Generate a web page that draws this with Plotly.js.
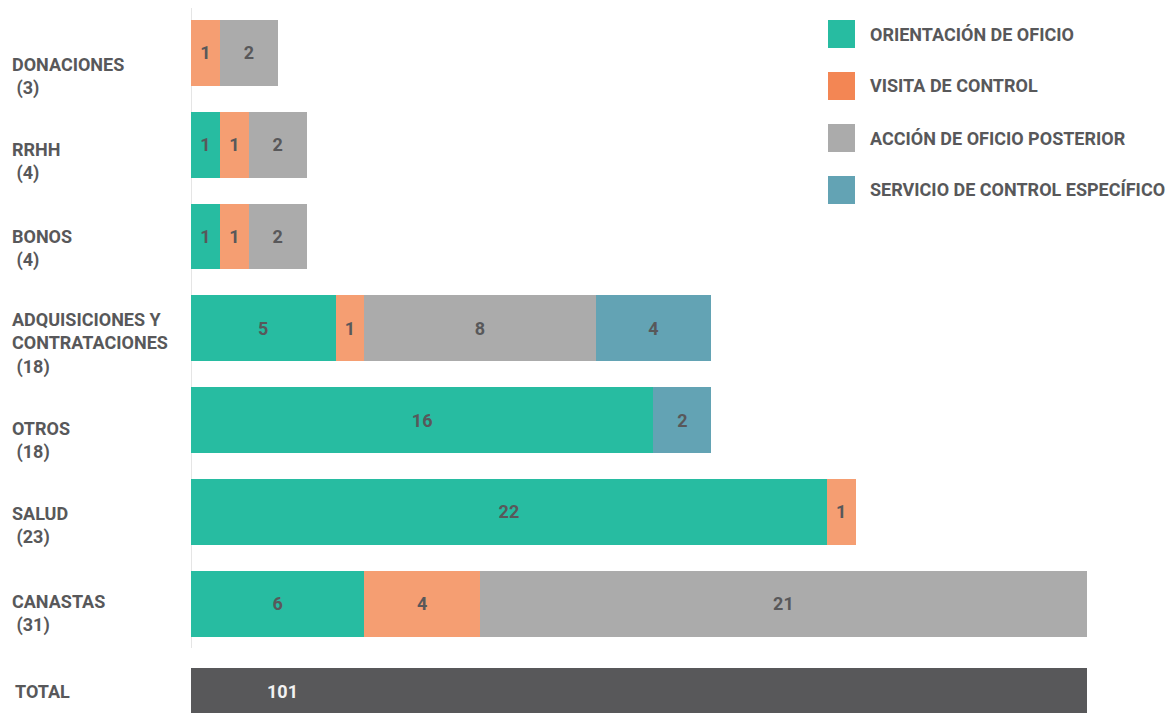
<!DOCTYPE html>
<html>
<head>
<meta charset="utf-8">
<script src="https://cdn.plot.ly/plotly-3.0.1.min.js"></script>
<style>html,body{margin:0;padding:0;background:#fff;}#chart{width:1166px;height:713px;}</style>
</head>
<body>
<div id="chart"></div>
<script>
// ---- data ----
const categories = ['DONACIONES', 'RRHH', 'BONOS', 'ADQUISICIONES Y CONTRATACIONES', 'OTROS', 'SALUD', 'CANASTAS'];
const categoryLabels = ['DONACIONES', 'RRHH', 'BONOS', 'ADQUISICIONES Y<br>CONTRATACIONES', 'OTROS', 'SALUD', 'CANASTAS'];
const categoryTotals = [3, 4, 4, 18, 18, 23, 31];
const seriesNames = ['ORIENTACIÓN DE OFICIO', 'VISITA DE CONTROL', 'ACCIÓN DE OFICIO POSTERIOR', 'SERVICIO DE CONTROL ESPECÍFICO'];
const orientacion = [0, 1, 1, 5, 16, 22, 6];
const visita = [1, 1, 1, 1, 0, 1, 4];
const accion = [2, 2, 2, 8, 0, 0, 21];
const servicio = [0, 0, 0, 4, 2, 0, 0];
const totalCategory = 'TOTAL';
const totalValue = 101;
const totalBarLength = 31;
const totalLabelX = 3.15;

// ---- styles ----
const FONT = "Roboto, 'Liberation Sans', sans-serif";
const TXT = '#58585A';
const barColors = ['#27BCA1', '#F59E72', '#ABABAB', '#63A3B4'];
const legendColors = ['#27BCA1', '#F38654', '#ABABAB', '#63A3B4'];
const totalColor = '#58585A';
const labelShifts = [-24, -17, -12, -15, -20, -14, -10];

const seriesValues = [orientacion, visita, accion, servicio];
const yCats = categories.concat([totalCategory]);

const traces = seriesValues.map((vals, i) => ({
  type: 'bar',
  orientation: 'h',
  name: seriesNames[i],
  y: categories,
  x: vals,
  width: 0.717,
  marker: {color: barColors[i], line: {width: 0}},
  text: vals.map(v => v ? String(v) : ''),
  textposition: 'inside',
  insidetextanchor: 'middle',
  textangle: 0,
  constraintext: 'none',
  textfont: {family: FONT, size: 18, color: TXT, weight: 'bold'},
  hoverinfo: 'none',
  showlegend: false
}));

traces.push({
  type: 'bar',
  orientation: 'h',
  name: totalCategory,
  y: [totalCategory],
  x: [totalBarLength],
  width: 0.717,
  offset: -0.305,
  marker: {color: totalColor, line: {width: 0}},
  hoverinfo: 'none',
  showlegend: false
});

const annotations = [];
categories.forEach((c, i) => {
  annotations.push({
    xref: 'paper', yref: 'y',
    x: -181 / 975, y: c,
    xanchor: 'left', yanchor: 'middle', align: 'left',
    yshift: labelShifts[i],
    showarrow: false,
    text: '<b>' + categoryLabels[i] + '<br> (' + categoryTotals[i] + ')</b>',
    font: {family: FONT, size: 18, color: TXT}
  });
});
annotations.push({
  xref: 'paper', yref: 'y',
  x: -178 / 975, y: totalCategory,
  xanchor: 'left', yanchor: 'middle', align: 'left',
  yshift: 4,
  showarrow: false,
  text: '<b>' + totalCategory + '</b>',
  font: {family: FONT, size: 18, color: TXT}
});
annotations.push({
  xref: 'x', yref: 'y',
  x: totalLabelX, y: totalCategory,
  xanchor: 'center', yanchor: 'middle',
  yshift: 4,
  showarrow: false,
  text: '<b>' + totalValue + '</b>',
  font: {family: FONT, size: 18, color: '#F2F2F2'}
});

const shapes = [{
  type: 'line', xref: 'x', yref: 'paper',
  x0: 0, x1: 0, y0: 1 - 8 / 713, y1: 1 - 648 / 713,
  line: {color: '#CCCCCC', width: 1},
  layer: 'below'
}];

// custom legend (large squares)
seriesNames.forEach((n, i) => {
  const top = 20 + i * 52;
  shapes.push({
    type: 'rect', xref: 'paper', yref: 'paper',
    x0: (828 - 191) / 975, x1: (855 - 191) / 975,
    y0: 1 - top / 713, y1: 1 - (top + 28) / 713,
    fillcolor: legendColors[i], line: {width: 0}
  });
  annotations.push({
    xref: 'paper', yref: 'paper',
    x: (868 - 191) / 975, y: 1 - (top + 14) / 713,
    xanchor: 'left', yanchor: 'middle',
    showarrow: false,
    text: '<b>' + n + '</b>',
    font: {family: FONT, size: 18, color: TXT}
  });
});

const layout = {
  width: 1166, height: 713,
  margin: {l: 191, r: 0, t: 0, b: 0, pad: 0},
  paper_bgcolor: '#FFFFFF', plot_bgcolor: '#FFFFFF',
  barmode: 'stack',
  showlegend: false,
  xaxis: {range: [0, 975 / 28.9], visible: false, fixedrange: true},
  yaxis: {
    type: 'category', categoryorder: 'array', categoryarray: yCats,
    range: [7.19, -0.577], showticklabels: false, showgrid: false,
    zeroline: false, showline: false, ticks: '', fixedrange: true
  },
  font: {family: FONT, color: TXT},
  annotations: annotations,
  shapes: shapes
};

Plotly.newPlot('chart', traces, layout, {displayModeBar: false, staticPlot: true});
</script>
</body>
</html>
